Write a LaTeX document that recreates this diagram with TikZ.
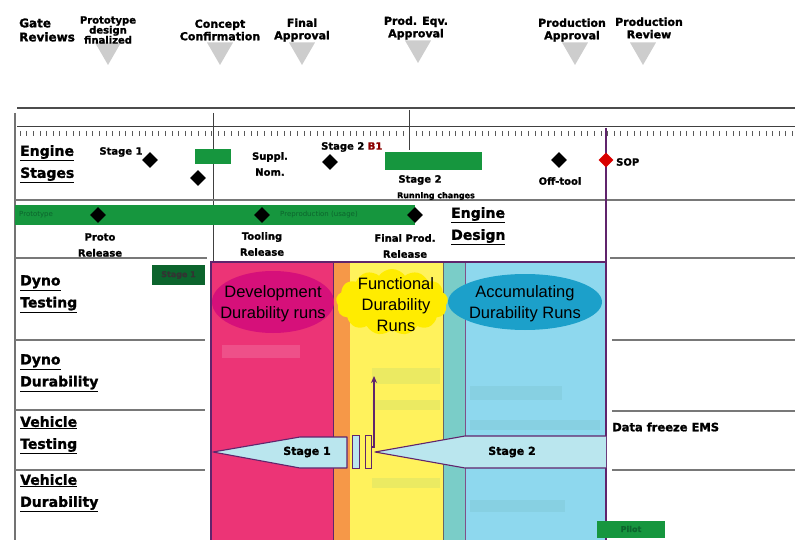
\documentclass[tikz,border=0pt]{standalone}
\usepackage{fontspec}
\setmainfont{Liberation Sans}
\newfontfamily\dvs{DejaVu Sans}[BoldFeatures={FakeBold=1.4}]
\usetikzlibrary{shapes.geometric,shapes.symbols,arrows.meta}

\definecolor{barGreen}{RGB}{22,150,62}
\definecolor{darkGreen}{RGB}{12,100,45}
\definecolor{colPink}{RGB}{236,52,118}
\definecolor{blobPink}{RGB}{214,16,122}
\definecolor{colOrange}{RGB}{246,152,72}
\definecolor{colYellow}{RGB}{255,242,92}
\definecolor{blobYellow}{RGB}{255,236,0}
\definecolor{colTeal}{RGB}{122,205,200}
\definecolor{colBlue}{RGB}{142,216,238}
\definecolor{blobBlue}{RGB}{28,160,202}
\definecolor{arrowFill}{RGB}{186,230,238}
\definecolor{edgePurple}{RGB}{96,36,108}
\definecolor{gridGray}{RGB}{120,120,120}
\definecolor{gateGray}{RGB}{205,205,205}

\begin{document}
\begin{tikzpicture}[x=1pt,y=-1pt,
  gate/.style={font=\dvs\bfseries\fontsize{11}{12.5}\selectfont, align=center, inner sep=0pt},
  gatemark/.style={regular polygon, regular polygon sides=3, shape border rotate=180,
                   fill=gateGray, inner sep=0pt, minimum size=30pt},
  rowlbl/.style={font=\dvs\bfseries\fontsize{14}{22}\selectfont, align=left, anchor=north west, inner sep=0pt},
  small/.style={font=\dvs\bfseries\fontsize{10}{16}\selectfont, align=center, inner sep=0pt},
  ms/.style={diamond, fill=black, inner sep=0pt, minimum size=16pt},
  rule/.style={draw=gridGray, line width=1.2pt},
  bubble/.style={font=\fontsize{16.5}{21}\selectfont, align=center, inner sep=0pt, text=black},
  bar/.style={fill=barGreen},
  stagearrow/.style={fill=arrowFill, draw=edgePurple, line width=1.1pt, line join=round},
  faint/.style={fill opacity=0.14}
]
\useasboundingbox (0,0) rectangle (795,540);

% ---------- gate reviews ----------
\node[gatemark] (tProto)   at (108,50) {};
\node[gatemark] (tConcept) at (220,50) {};
\node[gatemark] (tFinal)   at (302,50) {};
\node[gatemark] (tEqv)     at (418,48) {};
\node[gatemark] (tPAppr)   at (575,50) {};
\node[gatemark] (tPRev)    at (643,50) {};

\node[gate, align=left, anchor=west, font=\dvs\bfseries\fontsize{12}{14}\selectfont] (gateT) at (19,30) {Gate\\Reviews};
\node[gate, font=\dvs\bfseries\fontsize{10}{10}\selectfont] (gProto) at (108,30) {Prototype\\design\\finalized};
\node[gate] (gConcept) at (220,30) {Concept\\Confirmation};
\node[gate] (gFinal)   at (302,30) {Final\\Approval};
\node[gate] (gEqv)     at (416,28) {Prod. Eqv.\\Approval};
\node[gate] (gPAppr)   at (572,30) {Production\\Approval};
\node[gate] (gPRev)    at (649,28) {Production\\Review};

% ---------- frame and ruler ----------
\draw[draw=black!70, line width=1.3pt] (17,108) -- (795,108);
\draw[draw=black!75, line width=1pt] (17,127) -- (795,127);
\foreach \i in {0,...,117} {
  \draw[black!65, line width=0.6pt] ({20+\i*6.6},131) -- ({20+\i*6.6},136);
}
\draw[draw=black!55, line width=2pt] (15,113) -- (15,540);
\draw[draw=black!75, line width=1pt] (213,113) -- (213,262);
\draw[draw=black!75, line width=1pt] (409,110) -- (409,150);

% row separators
\draw[rule] (15,200) -- (795,200);
\draw[rule] (15,258) -- (207,258);  \draw[rule] (610,258) -- (795,258);
\draw[rule] (15,340) -- (205,340);  \draw[rule] (612,340) -- (795,340);
\draw[rule] (15,410) -- (205,410);  \draw[rule] (612,411) -- (795,411);
\draw[rule] (15,470) -- (205,470);  \draw[rule] (612,470) -- (795,470);

% ---------- row labels ----------
\node[rowlbl] (lEngine)  at (20,145) {\underline{Engine}\\\underline{Stages}};
\node[rowlbl] (lDynoT)   at (20,275) {\underline{Dyno}\\\underline{Testing}};
\node[rowlbl] (lDynoD)   at (20,354) {\underline{Dyno}\\\underline{Durability}};
\node[rowlbl] (lVehT)    at (20,416) {\underline{Vehicle}\\\underline{Testing}};
\node[rowlbl] (lVehD)    at (20,474) {\underline{Vehicle}\\\underline{Durability}};
\node[rowlbl] (lDesign)  at (451,207) {\underline{Engine}\\\underline{Design}};

% ---------- engine stages row ----------
\node[small] (tStage1) at (121,152) {Stage 1};
\node[ms] (dStage1) at (150,160) {};
\node[ms] (dStage1b) at (198,178) {};
\node[bar, minimum width=36pt, minimum height=15pt, inner sep=0pt] (bSmall) at (213,157) {};
\node[small] (tSuppl) at (270,164) {Suppl.\\Nom.};
\node[small, anchor=west] (tStage2b) at (321,147) {Stage 2 \textcolor{red!55!black}{B1}};
\node[ms] (dStage2) at (330,162) {};
\node[bar, minimum width=97pt, minimum height=18pt, inner sep=0pt] (bStage2) at (433,161) {};
\node[small] (tStage2) at (420,180) {Stage 2};
\node[small, font=\dvs\bfseries\fontsize{8}{9}\selectfont] (tRunning) at (436,196) {Running changes};
\node[ms] (dOff) at (559,160) {};
\node[small] (tOff) at (560,181) {Off-tool};
\node[small, anchor=west] (tSOP) at (616,162) {SOP};

% ---------- engine design row ----------
\node[bar, minimum width=400pt, minimum height=20pt, inner sep=0pt] (bDesign) at (215,215) {};
\node[font=\dvs\fontsize{7}{8}\selectfont, text=darkGreen, anchor=west, inner sep=0pt] (tProtoBar) at (19,215) {Prototype};
\node[font=\dvs\fontsize{7}{8}\selectfont, text=darkGreen, anchor=west, inner sep=0pt] (tPreBar) at (280,215) {Preproduction (usage)};
\node[ms] (dProto) at (98,215) {};
\node[ms] (dTool) at (262,215) {};
\node[ms] (dFinalRel) at (415,215) {};
\node[small] (tProtoRel) at (100,245) {Proto\\Release};
\node[small] (tToolRel) at (262,244) {Tooling\\Release};
\node[small] (tFinalRel) at (405,246) {Final Prod.\\Release};

% ---------- dyno testing stage 1 tag ----------
\node[fill=darkGreen, minimum width=53pt, minimum height=20pt, inner sep=0pt,
      font=\dvs\bfseries\fontsize{8}{9}\selectfont, text=black!80] (bDynoS1) at (178.5,275) {Stage 1};

% ---------- durability phases ----------
\fill[colPink]   (211,262) rectangle (333,540);
\fill[colOrange] (333,262) rectangle (350,540);
\fill[colYellow] (350,262) rectangle (443,540);
\fill[colTeal]   (443,262) rectangle (465,540);
\fill[colBlue]   (465,262) rectangle (606,540);

% faint activity bars inside the phases
\fill[white, faint] (222,345) rectangle (300,358);
\fill[barGreen!60, faint] (372,368) rectangle (440,384);
\fill[barGreen!60, faint] (372,400) rectangle (440,410);
\fill[barGreen!60, faint] (372,478) rectangle (440,488);
\fill[colTeal!80!black, faint] (470,386) rectangle (562,400);
\fill[colTeal!80!black, faint] (470,420) rectangle (600,430);
\fill[colTeal!80!black, faint] (470,500) rectangle (565,512);

\draw[edgePurple, line width=1pt] (333,262) -- (333,540);
\draw[black!60, line width=0.8pt] (443,262) -- (443,540);
\draw[edgePurple!80, line width=0.8pt] (465,262) -- (465,540);
\draw[edgePurple, line width=1.4pt] (211,540) -- (211,262) -- (606,262);

% phase bubbles
\node[ellipse, fill=blobPink, minimum width=122pt, minimum height=62pt, inner sep=0pt] (eDev) at (273,302) {};
\node[bubble] (tDev) at (273,304) {Development\\Durability runs};
\node[cloud, cloud puffs=13, cloud puff arc=110, aspect=1.6, fill=blobYellow,
      minimum width=112pt, minimum height=66pt, inner sep=0pt] (eFunc) at (392,302) {};
\node[bubble] (tFunc) at (396,305) {Functional\\Durability\\Runs};
\node[ellipse, fill=blobBlue, minimum width=154pt, minimum height=56pt, inner sep=0pt] (eAcc) at (525,302) {};
\node[bubble] (tAcc) at (525,304) {Accumulating\\Durability Runs};

% SOP milestone and line
\coordinate (sopTop) at (606,128);
\draw[edgePurple, line width=2pt] (sopTop) -- (606,540);
\node[diamond, fill=red!85!black, inner sep=0pt, minimum size=15pt] (dSOP) at (606,160) {};

% vehicle testing stages
\draw[stagearrow] (213,452) -- (300,437) -- (347,437) -- (347,468) -- (300,468) -- cycle;
\node[font=\dvs\bfseries\fontsize{11}{12}\selectfont, inner sep=0pt] (tS1) at (307,452) {Stage 1};
\node[draw=edgePurple, line width=1pt, fill=arrowFill, minimum width=7pt, minimum height=33pt, inner sep=0pt] (m1) at (356,452) {};
\node[draw=edgePurple, line width=1pt, fill=colYellow, minimum width=6pt, minimum height=33pt, inner sep=0pt] (m2) at (368,452) {};
\draw[stagearrow] (606,436) -- (465,436) -- (375,452) -- (465,468) -- (606,468);
\node[font=\dvs\bfseries\fontsize{11}{12}\selectfont, inner sep=0pt] (tS2) at (512,452) {Stage 2};
\coordinate (upEnd) at (374,376);
\draw[edgePurple, line width=1.4pt, -{Stealth[length=7pt,width=6pt]}] (m2.east |- 0,447) -| (upEnd);

% right-hand notes
\node[font=\dvs\bfseries\fontsize{11.5}{13}\selectfont, anchor=west, inner sep=0pt] (tFreeze) at (612,427) {Data freeze EMS};
\node[fill=barGreen, minimum width=68pt, minimum height=17pt, inner sep=0pt,
      font=\dvs\bfseries\fontsize{8}{9}\selectfont, text=darkGreen] (bPilot) at (631,529) {Pilot};
\end{tikzpicture}
\end{document}
